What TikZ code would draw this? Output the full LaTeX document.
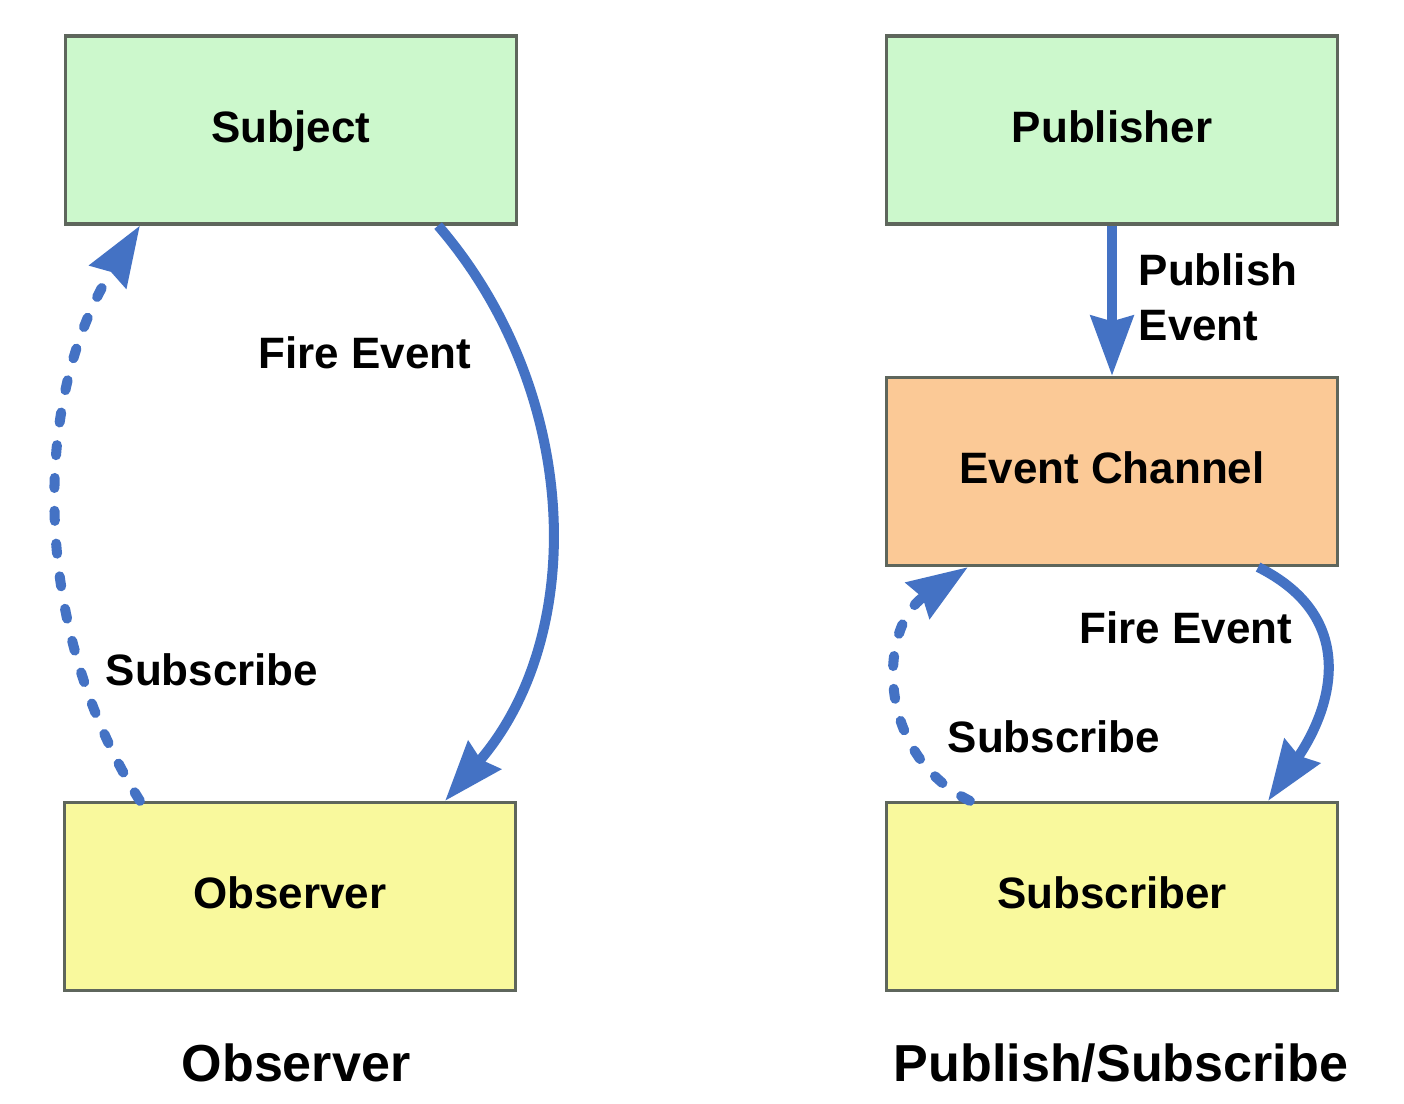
\documentclass[tikz,border=0pt]{standalone}
\usepackage{fontspec}
\setmainfont{Liberation Sans}
\usetikzlibrary{arrows.meta,calc}
\definecolor{boxgreen}{HTML}{CCF8CC}
\definecolor{boxyellow}{HTML}{F9F99D}
\definecolor{boxorange}{HTML}{FBC996}
\definecolor{boxline}{HTML}{5E665C}
\definecolor{flowblue}{HTML}{4472C4}

\begin{document}
\begin{tikzpicture}[x=0.01cm, y=-0.01cm, >={Stealth[length=17pt,width=12pt,inset=1.5pt]},
    box/.style={draw=boxline, line width=0.9pt, minimum width=4.5cm, minimum height=1.88cm,
      inner sep=0pt, text height=9pt, text depth=2pt, font=\fontsize{12.5}{15}\selectfont\bfseries},
    lbl/.style={inner sep=0pt, font=\fontsize{12.5}{15.6}\selectfont\bfseries},
    ttl/.style={inner sep=0pt, font=\fontsize{14.8}{18}\selectfont\bfseries},
    flow/.style={->, draw=flowblue, line width=2.85pt},
    subline/.style={flow, dash pattern=on 2.85pt off 6.5pt, line cap=round}]
  \fill[white] (0,0) rectangle (1404,1104);
  \useasboundingbox (0,0) rectangle (1404,1104);

  % observer pattern
  \node[box, fill=boxgreen] (subj) at (291,130) {Subject};
  \node[box, fill=boxyellow] (obs) at (290,896.5) {Observer};
  \draw[flow] ([xshift=1.47cm]subj.south) .. controls +(143,166) and +(143,-166) .. ([xshift=1.55cm]obs.north);
  \draw[subline] ([xshift=-1.5cm]obs.north) .. controls +(-109,-174) and +(-109,174) .. ([xshift=-1.51cm]subj.south);
  \node[lbl] (fire1) at (365,353) {Fire Event};
  \node[lbl] (sub1) at (212,670) {Subscribe};
  \node[ttl] (ttl1) at (296,1063) {Observer};

  % publish/subscribe pattern
  \node[box, fill=boxgreen] (pub) at (1112,130) {Publisher};
  \node[box, fill=boxorange] (chan) at (1112,471.5) {Event Channel};
  \node[box, fill=boxyellow] (subr) at (1112,896.5) {Subscriber};
  \draw[flow] (pub.south) -- (chan.north);
  \draw[flow] ([xshift=1.46cm]chan.south) .. controls +(100,50) and +(65,-95) .. ([xshift=1.56cm]subr.north);
  \draw[subline] ([xshift=-1.42cm]subr.north) .. controls +(-95,-47) and +(-90,60) .. ([xshift=-1.44cm]chan.south);
  \node[lbl, align=left, anchor=west] (pubev) at (1138,297) {Publish\\Event};
  \node[lbl] (fire2) at (1186,628) {Fire Event};
  \node[lbl] (sub2) at (1054,737) {Subscribe};
  \node[ttl] (ttl2) at (1121,1063) {Publish/Subscribe};
\end{tikzpicture}
\end{document}
